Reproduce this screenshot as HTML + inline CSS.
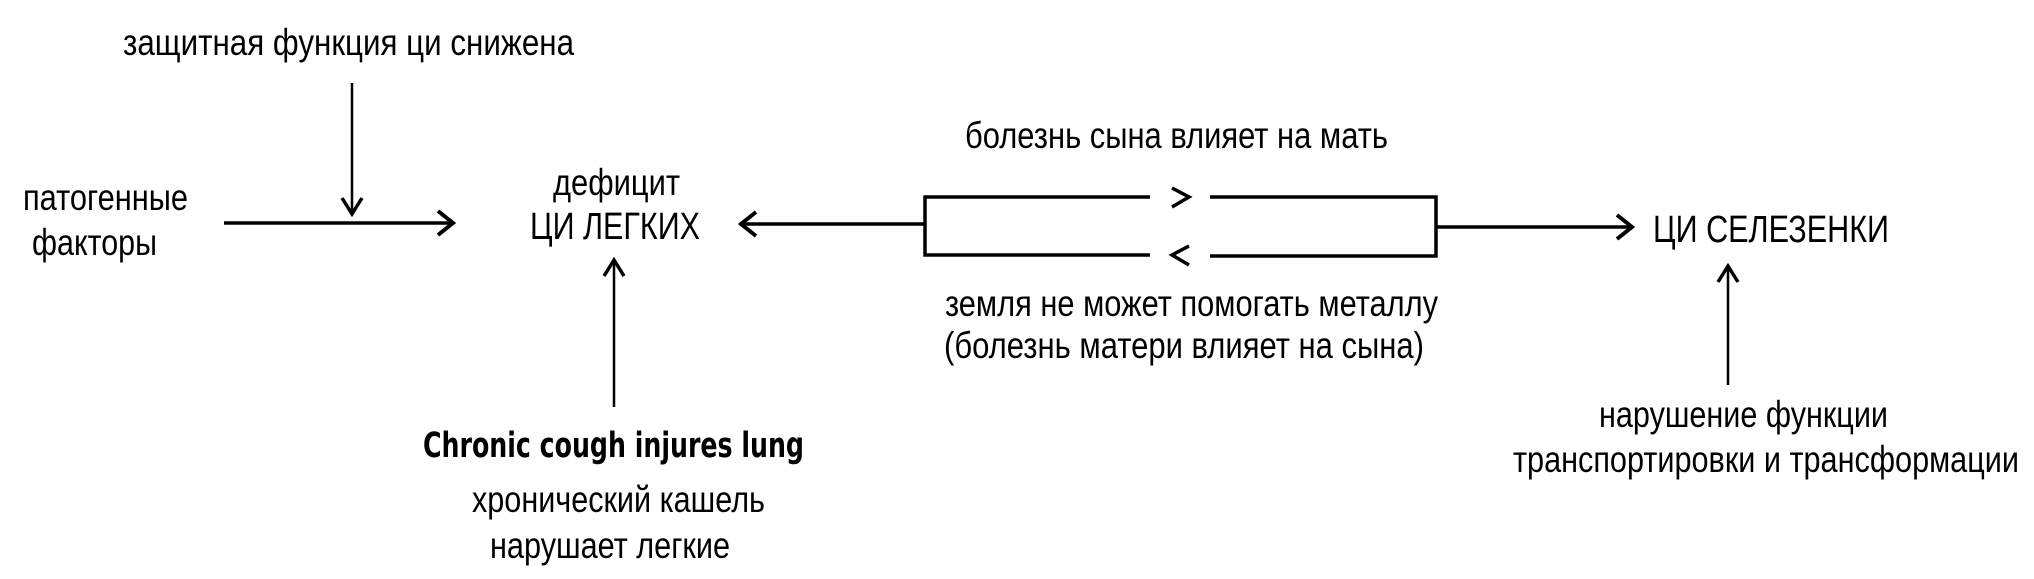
<!DOCTYPE html>
<html><head><meta charset="utf-8"><style>
html,body{margin:0;padding:0;background:#fff;}
svg{display:block;}
text{font-family:"Liberation Sans Narrow","Liberation Sans",sans-serif;font-size:37px;fill:#000;}
.c{font-family:"DejaVu Sans Condensed","DejaVu Sans",sans-serif;font-weight:bold;font-size:35px;}
</style></head><body>
<svg width="2034" height="579" viewBox="0 0 2034 579" xmlns="http://www.w3.org/2000/svg">
<g stroke="#000" fill="none" stroke-linecap="butt">
  <line x1="352" y1="83" x2="352" y2="214" stroke-width="2.5"/>
  <polyline points="342,198 352,214 362,198" stroke-width="3.5"/>
  <line x1="224" y1="223" x2="453" y2="223" stroke-width="3.5"/>
  <polyline points="438,211 453,223 438,235" stroke-width="4"/>
  <line x1="614" y1="407" x2="614" y2="260" stroke-width="2.5"/>
  <polyline points="604,276 614,260 624,276" stroke-width="3.5"/>
  <line x1="925" y1="224" x2="741" y2="224" stroke-width="3.5"/>
  <polyline points="756,212 741,224 756,236" stroke-width="4"/>
  <polyline points="1150,197 925,197 925,255 1150,255" stroke-width="3.5"/>
  <polyline points="1210,197 1436,197 1436,256 1210,256" stroke-width="3.5"/>
  <line x1="1436" y1="227" x2="1632" y2="227" stroke-width="3.5"/>
  <polyline points="1617,215 1632,227 1617,239" stroke-width="4"/>
  <line x1="1728" y1="385" x2="1728" y2="266" stroke-width="2.5"/>
  <polyline points="1718,282 1728,266 1738,282" stroke-width="3.5"/>
  <polyline points="1172,188 1189,197 1172,207" stroke-width="3.5"/>
  <polyline points="1189,246 1172,255 1189,265" stroke-width="3.5"/>
</g>
<text x="123" y="55" textLength="451" lengthAdjust="spacingAndGlyphs">защитная функция ци  снижена</text>
<text x="23" y="210" textLength="165" lengthAdjust="spacingAndGlyphs">патогенные</text>
<text x="32" y="255" textLength="125" lengthAdjust="spacingAndGlyphs">факторы</text>
<text x="553" y="195" textLength="127" lengthAdjust="spacingAndGlyphs">дефицит</text>
<text x="530" y="239" textLength="170" lengthAdjust="spacingAndGlyphs" style="font-size:38px">ЦИ ЛЕГКИХ</text>
<text class="c" x="423" y="457" textLength="381" lengthAdjust="spacingAndGlyphs">Chronic cough injures lung</text>
<text x="472" y="512" textLength="293" lengthAdjust="spacingAndGlyphs">хронический кашель</text>
<text x="490" y="558" textLength="240" lengthAdjust="spacingAndGlyphs">нарушает легкие</text>
<text x="965" y="148" textLength="423" lengthAdjust="spacingAndGlyphs">болезнь сына влияет на мать</text>
<text x="945" y="316" textLength="493" lengthAdjust="spacingAndGlyphs">земля не может помогать металлу</text>
<text x="944" y="358" textLength="480" lengthAdjust="spacingAndGlyphs">(болезнь матери влияет на сына)</text>
<text x="1653" y="242" textLength="236" lengthAdjust="spacingAndGlyphs" style="font-size:38px">ЦИ СЕЛЕЗЕНКИ</text>
<text x="1599" y="427" textLength="289" lengthAdjust="spacingAndGlyphs">нарушение функции</text>
<text x="1513" y="472" textLength="506" lengthAdjust="spacingAndGlyphs">транспортировки и трансформации</text>
</svg>
</body></html>
